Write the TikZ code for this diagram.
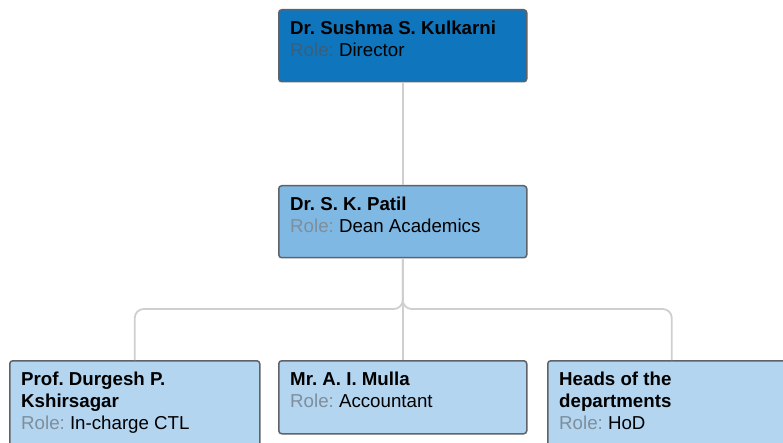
\documentclass[tikz,border=0pt]{standalone}
\usepackage{fontspec}
\setmainfont{Liberation Sans}
\frenchspacing
\definecolor{darkfill}{HTML}{0F75BC}
\definecolor{midfill}{HTML}{80B8E4}
\definecolor{lightfill}{HTML}{B3D5F0}
\definecolor{boxline}{HTML}{5F6367}
\definecolor{connline}{HTML}{CFCFCF}
\definecolor{roledark}{HTML}{3A5F7D}
\definecolor{rolelight}{HTML}{7E8E9B}
\begin{document}
\begin{tikzpicture}[x=1pt,y=-1pt,
  card/.style={draw=boxline, line width=1.5pt, rounded corners=3pt, anchor=north west,
    minimum width=248pt, inner sep=0pt},
  cardtext/.style={anchor=north west, inner sep=0pt, align=left,
    font=\fontsize{18.7}{22}\selectfont},
  conn/.style={draw=connline, line width=1.8pt, rounded corners=9pt}]
\useasboundingbox (0,0) rectangle (783,443);
\node[card, fill=darkfill, minimum height=72pt] (top) at (278,9) {};
\node[card, fill=midfill, minimum height=72pt] (mid) at (278,185) {};
\node[card, fill=lightfill, minimum width=250pt, minimum height=100pt] (b1) at (9,360) {};
\node[card, fill=lightfill, minimum height=73pt] (b2) at (278,360) {};
\node[card, fill=lightfill, minimum height=100pt] (b3) at (547,360) {};
\coordinate (bus) at (402,309);
\draw[conn] (top.south) -- (mid.north);
\draw[conn] (mid.south) -- (mid.south |- bus) -| (b1.north);
\draw[conn] (mid.south) -- (mid.south |- bus) -| (b3.north);
\draw[conn] (mid.south) -- (b2.north);
\node[cardtext] (ttop) at ([xshift=12pt,yshift=-12pt]top.north west)
  {\textbf{Dr. Sushma S. Kulkarni}\\\textcolor{roledark}{Role:} Director};
\node[cardtext] (tmid) at ([xshift=12pt,yshift=-12pt]mid.north west)
  {\textbf{Dr. S. K. Patil}\\\textcolor{rolelight}{Role:} Dean Academics};
\node[cardtext] (tb1) at ([xshift=12pt,yshift=-12pt]b1.north west)
  {\textbf{Prof. Durgesh P.}\\\textbf{Kshirsagar}\\\textcolor{rolelight}{Role:} In-charge CTL};
\node[cardtext] (tb2) at ([xshift=12pt,yshift=-12pt]b2.north west)
  {\textbf{Mr. A. I. Mulla}\\\textcolor{rolelight}{Role:} Accountant};
\node[cardtext] (tb3) at ([xshift=12pt,yshift=-12pt]b3.north west)
  {\textbf{Heads of the}\\\textbf{departments}\\\textcolor{rolelight}{Role:} HoD};
\end{tikzpicture}
\end{document}
